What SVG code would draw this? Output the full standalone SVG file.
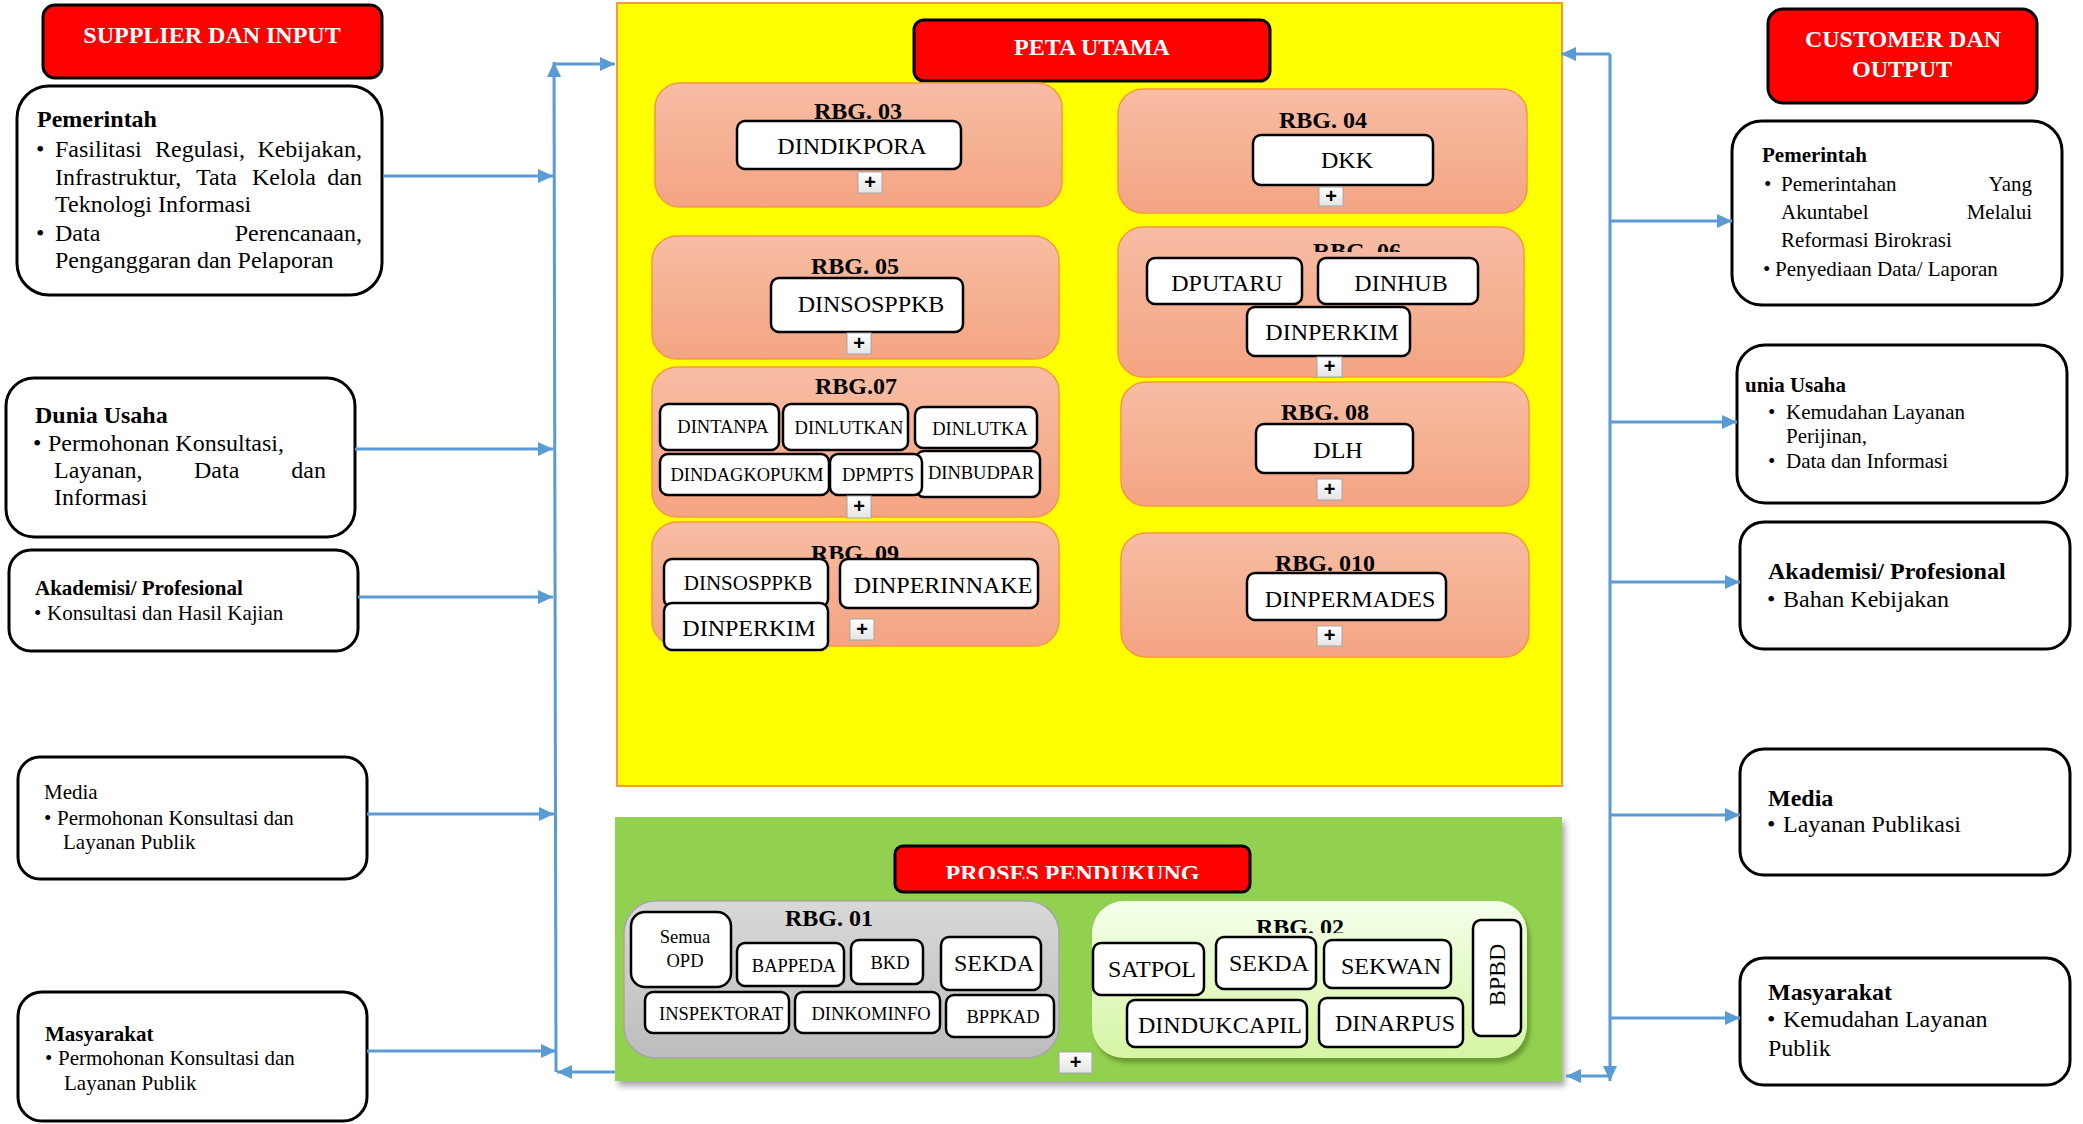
<svg xmlns="http://www.w3.org/2000/svg" width="2083" height="1124" viewBox="0 0 2083 1124">
<style>
.t{font-family:"Liberation Serif","Times New Roman",serif;fill:#000}
.b{font-weight:bold}
.w{fill:#fff}
.s24{font-size:24px}.s21{font-size:21px}.s18{font-size:18.5px}
.m{text-anchor:middle}.e{text-anchor:end}
.box{fill:#fff;stroke:#000;stroke-width:3}
.node{fill:#fff;stroke:#000;stroke-width:2.5}
.hdr{fill:#f00;stroke:#000;stroke-width:3}
.rbg{fill:url(#salmon);stroke:#F79646;stroke-width:1.5}
.conn{stroke:#5B9BD5;stroke-width:3;fill:none;marker-end:url(#ah)}
.pb{fill:url(#plusg);stroke:#A6A6A6;stroke-width:1}
.pt{font-family:"Liberation Sans",Arial,sans-serif;font-weight:bold;font-size:20px;text-anchor:middle;fill:#000}
</style>
<defs>
<linearGradient id="salmon" x1="0" y1="0" x2="0" y2="1"><stop offset="0" stop-color="#F7BDA4"/><stop offset="1" stop-color="#F4A482"/></linearGradient>
<linearGradient id="gray" x1="0" y1="0" x2="0" y2="1"><stop offset="0" stop-color="#D8D8D8"/><stop offset="1" stop-color="#BDBDBD"/></linearGradient>
<linearGradient id="lgreen" x1="0" y1="0" x2="0" y2="1"><stop offset="0" stop-color="#F4FFEA"/><stop offset="1" stop-color="#D6F5A4"/></linearGradient>
<linearGradient id="plusg" x1="0" y1="0" x2="0" y2="1"><stop offset="0" stop-color="#FFFFFF"/><stop offset="1" stop-color="#E4E4E4"/></linearGradient>
<filter id="sh" x="-5%" y="-5%" width="110%" height="115%"><feDropShadow dx="3" dy="5" stdDeviation="3" flood-color="#000" flood-opacity="0.35"/></filter>
<filter id="gsh" x="-5%" y="-5%" width="110%" height="115%"><feDropShadow dx="3" dy="5" stdDeviation="2" flood-color="#5E8E2A" flood-opacity="0.8"/></filter>
<marker id="ah" viewBox="0 0 15 14" refX="15" refY="7" markerWidth="15" markerHeight="14" markerUnits="userSpaceOnUse" orient="auto"><path d="M0,0 L15,7 L0,14 Z" fill="#5B9BD5"/></marker>
<clipPath id="c06"><rect x="1250" y="220" width="220" height="32"/></clipPath>
<clipPath id="c09"><rect x="750" y="530" width="220" height="29"/></clipPath>
<clipPath id="c02"><rect x="1200" y="905" width="220" height="28"/></clipPath>
<clipPath id="cpp"><rect x="895" y="846" width="355" height="33"/></clipPath>
</defs>

<g id="peta-utama-area">
<rect x="617" y="3" width="945" height="783" fill="#FFFF00" stroke="#F79646" stroke-width="2"/>
</g>
<g id="peta-utama-title">
<rect class="hdr" x="914" y="20" width="356" height="61" rx="10"/>
<text class="t b w s24 m" x="1092" y="55">PETA UTAMA</text>
</g>

<g id="rbg03">
<rect class="rbg" x="655" y="83" width="407" height="124" rx="25"/>
<text class="t b s24 m" x="858" y="119">RBG. 03</text>
<rect class="node" x="737" y="121" width="224" height="48" rx="8"/>
<text class="t s24 m" x="852" y="154">DINDIKPORA</text>
<rect class="pb" x="858" y="172" width="24" height="21"/><text class="pt" x="870" y="189">+</text>
</g>

<g id="rbg04">
<rect class="rbg" x="1118" y="89" width="409" height="124" rx="25"/>
<text class="t b s24 m" x="1323" y="128">RBG. 04</text>
<rect class="node" x="1253" y="135" width="180" height="50" rx="8"/>
<text class="t s24 m" x="1347" y="168">DKK</text>
<rect class="pb" x="1319" y="187" width="24" height="19"/><text class="pt" x="1331" y="203">+</text>
</g>

<g id="rbg05">
<rect class="rbg" x="652" y="236" width="407" height="123" rx="25"/>
<text class="t b s24 m" x="855" y="274">RBG. 05</text>
<rect class="node" x="771" y="278" width="192" height="54" rx="8"/>
<text class="t s24 m" x="871" y="312">DINSOSPPKB</text>
<rect class="pb" x="847" y="333" width="24" height="21"/><text class="pt" x="859" y="350">+</text>
</g>

<g id="rbg06">
<rect class="rbg" x="1118" y="227" width="406" height="150" rx="25"/>
<text class="t b s24 m" x="1357" y="259" clip-path="url(#c06)">RBG. 06</text>
<rect class="node" x="1147" y="258" width="155" height="46" rx="8"/>
<text class="t s24 m" x="1227" y="291">DPUTARU</text>
<rect class="node" x="1318" y="258" width="160" height="46" rx="8"/>
<text class="t s24 m" x="1401" y="291">DINHUB</text>
<rect class="node" x="1247" y="307" width="163" height="49" rx="8"/>
<text class="t s24 m" x="1332" y="340">DINPERKIM</text>
<rect class="pb" x="1317" y="357" width="25" height="20"/><text class="pt" x="1329.5" y="373">+</text>
</g>

<g id="rbg07">
<rect class="rbg" x="652" y="367" width="407" height="150" rx="25"/>
<text class="t b s24 m" x="856" y="394">RBG.07</text>
<rect class="node" x="660" y="404" width="119" height="46" rx="8"/>
<text class="t s18 m" x="723" y="433">DINTANPA</text>
<rect class="node" x="783" y="404" width="125" height="46" rx="8"/>
<text class="t s18 m" x="849" y="434">DINLUTKAN</text>
<rect class="node" x="915" y="407" width="122" height="41" rx="8"/>
<text class="t s18 m" x="980" y="435">DINLUTKA</text>
<rect class="node" x="916" y="451" width="124" height="46" rx="8"/>
<text class="t s18 m" x="981" y="479">DINBUDPAR</text>
<rect class="node" x="660" y="454" width="169" height="41" rx="8"/>
<text class="t s18 m" x="747" y="481">DINDAGKOPUKM</text>
<rect class="node" x="830" y="454" width="92" height="41" rx="8"/>
<text class="t s18 m" x="878" y="481">DPMPTS</text>
<rect class="pb" x="847" y="496" width="24" height="22"/><text class="pt" x="859" y="513">+</text>
</g>

<g id="rbg08">
<rect class="rbg" x="1121" y="382" width="408" height="124" rx="25"/>
<text class="t b s24 m" x="1325" y="420">RBG. 08</text>
<rect class="node" x="1256" y="424" width="157" height="49" rx="8"/>
<text class="t s24 m" x="1338" y="458">DLH</text>
<rect class="pb" x="1317" y="479" width="25" height="21"/><text class="pt" x="1329.5" y="496">+</text>
</g>

<g id="rbg09">
<rect class="rbg" x="652" y="522" width="407" height="124" rx="25"/>
<text class="t b s24 m" x="855" y="561" clip-path="url(#c09)">RBG. 09</text>
<rect class="node" x="664" y="559" width="164" height="48" rx="8"/>
<text class="t s21 m" x="748" y="590">DINSOSPPKB</text>
<rect class="node" x="840" y="559" width="198" height="49" rx="8"/>
<text class="t s24 m" x="943" y="593">DINPERINNAKE</text>
<rect class="node" x="664" y="603" width="164" height="47" rx="8"/>
<text class="t s24 m" x="749" y="636">DINPERKIM</text>
<rect class="pb" x="850" y="619" width="24" height="21"/><text class="pt" x="862" y="636">+</text>
</g>

<g id="rbg010">
<rect class="rbg" x="1121" y="533" width="408" height="124" rx="25"/>
<text class="t b s24 m" x="1325" y="571">RBG. 010</text>
<rect class="node" x="1247" y="573" width="199" height="47" rx="8"/>
<text class="t s24 m" x="1350" y="607">DINPERMADES</text>
<rect class="pb" x="1317" y="626" width="25" height="20"/><text class="pt" x="1329.5" y="642">+</text>
</g>

<g id="proses-pendukung-area">
<rect x="615" y="817" width="947" height="264" fill="#92D050" filter="url(#sh)"/>
</g>
<g id="proses-pendukung-title">
<rect class="hdr" x="895" y="846" width="355" height="46" rx="8"/>
<text class="t b w s24 m" x="1072.5" y="881" clip-path="url(#cpp)">PROSES PENDUKUNG</text>
</g>

<g id="rbg01">
<rect x="624" y="901" width="435" height="157" rx="32" fill="url(#gray)" stroke="#A6A6A6" stroke-width="1.5"/>
<text class="t b s24 m" x="829" y="926">RBG. 01</text>
<rect class="node" x="631" y="912" width="100" height="75" rx="14"/>
<text class="t s18 m" x="685" y="943">Semua</text>
<text class="t s18 m" x="685" y="967">OPD</text>
<rect class="node" x="737" y="943" width="107" height="43" rx="8"/>
<text class="t s18 m" x="794" y="972">BAPPEDA</text>
<rect class="node" x="851" y="940" width="72" height="44" rx="8"/>
<text class="t s18 m" x="890" y="969">BKD</text>
<rect class="node" x="941" y="937" width="100" height="53" rx="8"/>
<text class="t s24 m" x="994" y="971">SEKDA</text>
<rect class="node" x="645" y="992" width="144" height="41" rx="8"/>
<text class="t s18 m" x="721" y="1020">INSPEKTORAT</text>
<rect class="node" x="795" y="992" width="145" height="41" rx="8"/>
<text class="t s18 m" x="871" y="1020">DINKOMINFO</text>
<rect class="node" x="946" y="995" width="108" height="42" rx="8"/>
<text class="t s18 m" x="1003" y="1023">BPPKAD</text>
<rect class="pb" x="1059" y="1052" width="33" height="21"/><text class="pt" x="1075.5" y="1069">+</text>
</g>

<g id="rbg02">
<rect x="1092" y="901" width="435" height="157" rx="32" fill="url(#lgreen)" filter="url(#gsh)"/>
<text class="t b s24 m" x="1300" y="935" clip-path="url(#c02)">RBG. 02</text>
<rect class="node" x="1093" y="943" width="111" height="52" rx="8"/>
<text class="t s24 m" x="1152" y="977">SATPOL</text>
<rect class="node" x="1216" y="937" width="100" height="52" rx="8"/>
<text class="t s24 m" x="1269" y="971">SEKDA</text>
<rect class="node" x="1324" y="940" width="127" height="48" rx="8"/>
<text class="t s24 m" x="1391" y="974">SEKWAN</text>
<rect class="node" x="1127" y="1000" width="180" height="47" rx="8"/>
<text class="t s24 m" x="1220" y="1033">DINDUKCAPIL</text>
<rect class="node" x="1319" y="998" width="144" height="49" rx="8"/>
<text class="t s24 m" x="1395" y="1031">DINARPUS</text>
<rect class="node" x="1473" y="920" width="48" height="116" rx="8"/>
<text class="t s24 m" transform="translate(1505,975) rotate(-90)">BPBD</text>
</g>

<g id="supplier-header">
<rect class="hdr" x="43" y="5" width="339" height="73" rx="12"/>
<text class="t b w s24 m" x="212" y="43">SUPPLIER DAN INPUT</text>
</g>

<g id="in-pemerintah">
<rect class="box" x="17" y="86" width="365" height="209" rx="32"/>
<text class="t b s24" x="37" y="127">Pemerintah</text>
<text class="t s24" x="36" y="157">•</text>
<text class="t s24" x="55" y="157">Fasilitasi</text><text class="t s24" x="155" y="157">Regulasi,</text><text class="t s24 e" x="362" y="157">Kebijakan,</text>
<text class="t s24" x="55" y="185">Infrastruktur,</text><text class="t s24" x="196" y="185">Tata</text><text class="t s24" x="252" y="185">Kelola</text><text class="t s24 e" x="362" y="185">dan</text>
<text class="t s24" x="55" y="212">Teknologi Informasi</text>
<text class="t s24" x="36" y="241">•</text>
<text class="t s24" x="55" y="241">Data</text><text class="t s24 e" x="362" y="241">Perencanaan,</text>
<text class="t s24" x="55" y="268">Penganggaran dan Pelaporan</text>
</g>

<g id="in-dunia-usaha">
<rect class="box" x="6" y="378" width="349" height="159" rx="28"/>
<text class="t b s24" x="35" y="423">Dunia Usaha</text>
<text class="t s24" x="33" y="451">•</text><text class="t s24" x="48" y="451">Permohonan Konsultasi,</text>
<text class="t s24" x="54" y="478">Layanan,</text><text class="t s24" x="194" y="478">Data</text><text class="t s24 e" x="326" y="478">dan</text>
<text class="t s24" x="54" y="505">Informasi</text>
</g>

<g id="in-akademisi">
<rect class="box" x="9" y="550" width="349" height="101" rx="22"/>
<text class="t b s21" x="35" y="595">Akademisi/ Profesional</text>
<text class="t s21" x="34" y="620">•</text><text class="t s21" x="47" y="620">Konsultasi dan Hasil Kajian</text>
</g>

<g id="in-media">
<rect class="box" x="18" y="757" width="349" height="122" rx="22"/>
<text class="t s21" x="44" y="799">Media</text>
<text class="t s21" x="44" y="825">•</text><text class="t s21" x="57" y="825">Permohonan Konsultasi dan</text>
<text class="t s21" x="63" y="849">Layanan Publik</text>
</g>

<g id="in-masyarakat">
<rect class="box" x="18" y="992" width="349" height="129" rx="24"/>
<text class="t b s21" x="45" y="1041">Masyarakat</text>
<text class="t s21" x="45" y="1065">•</text><text class="t s21" x="58" y="1065">Permohonan Konsultasi dan</text>
<text class="t s21" x="64" y="1090">Layanan Publik</text>
</g>

<g id="customer-header">
<rect class="hdr" x="1768" y="9" width="269" height="94" rx="15"/>
<text class="t b w s24 m" x="1903" y="47">CUSTOMER DAN</text>
<text class="t b w s24 m" x="1902" y="77">OUTPUT</text>
</g>

<g id="out-pemerintah">
<rect class="box" x="1732" y="121" width="330" height="184" rx="30"/>
<text class="t b s21" x="1762" y="162">Pemerintah</text>
<text class="t s21" x="1764" y="191">•</text><text class="t s21" x="1781" y="191">Pemerintahan</text><text class="t s21 e" x="2032" y="191">Yang</text>
<text class="t s21" x="1781" y="219">Akuntabel</text><text class="t s21 e" x="2032" y="219">Melalui</text>
<text class="t s21" x="1781" y="247">Reformasi Birokrasi</text>
<text class="t s21" x="1763" y="276">•</text><text class="t s21" x="1775" y="276">Penyediaan Data/ Laporan</text>
</g>

<g id="out-dunia-usaha">
<rect class="box" x="1737" y="345" width="330" height="158" rx="28"/>
<text class="t b s21" x="1745" y="392">unia Usaha</text>
<text class="t s21" x="1768" y="419">•</text><text class="t s21" x="1786" y="419">Kemudahan Layanan</text>
<text class="t s21" x="1786" y="443">Perijinan,</text>
<text class="t s21" x="1768" y="468">•</text><text class="t s21" x="1786" y="468">Data dan Informasi</text>
</g>

<g id="out-akademisi">
<rect class="box" x="1740" y="522" width="330" height="127" rx="24"/>
<text class="t b s24" x="1768" y="579">Akademisi/ Profesional</text>
<text class="t s24" x="1767" y="607">•</text><text class="t s24" x="1783" y="607">Bahan Kebijakan</text>
</g>

<g id="out-media">
<rect class="box" x="1740" y="749" width="330" height="126" rx="24"/>
<text class="t b s24" x="1768" y="806">Media</text>
<text class="t s24" x="1767" y="832">•</text><text class="t s24" x="1783" y="832">Layanan Publikasi</text>
</g>

<g id="out-masyarakat">
<rect class="box" x="1740" y="958" width="330" height="127" rx="24"/>
<text class="t b s24" x="1768" y="1000">Masyarakat</text>
<text class="t s24" x="1767" y="1027">•</text><text class="t s24" x="1783" y="1027">Kemudahan Layanan</text>
<text class="t s24" x="1768" y="1056">Publik</text>
</g>

<g id="connectors">
<path class="conn" d="M383,176 H553"/>
<path class="conn" d="M355,449 H553"/>
<path class="conn" d="M358,597 H553"/>
<path class="conn" d="M367,814 H554"/>
<path class="conn" d="M367,1051 H556"/>
<path class="conn" d="M556,1072 L554,62"/>
<path class="conn" d="M554,64 H615"/>
<path class="conn" d="M615,1072 H557"/>
<path class="conn" d="M1610,54 V1081"/>
<path class="conn" d="M1610,54 H1561"/>
<path class="conn" d="M1610,221 H1732"/>
<path class="conn" d="M1610,422 H1737"/>
<path class="conn" d="M1610,582 H1740"/>
<path class="conn" d="M1610,815 H1740"/>
<path class="conn" d="M1610,1018 H1740"/>
<path class="conn" d="M1610,1076 H1566"/>
</g>
</svg>
